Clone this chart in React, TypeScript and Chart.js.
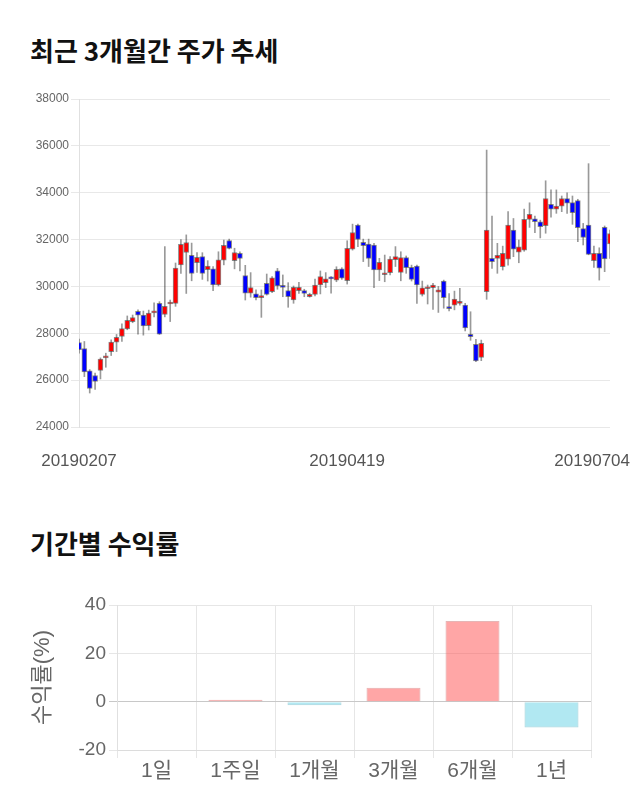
import React, { useEffect, useRef } from 'react';
import { Chart, registerables } from 'chart.js';

Chart.register(...registerables);

const FONT = "'Liberation Sans', Arial, 'Noto Sans CJK KR', sans-serif";

// ---- Price chart data (100 trading days) ----
const dates = [
  '20190207', '20190208', '20190211', '20190212', '20190213', '20190214', '20190215',
  '20190218', '20190219', '20190220', '20190221', '20190222', '20190225', '20190226',
  '20190227', '20190228', '20190304', '20190305', '20190306', '20190307', '20190308',
  '20190311', '20190312', '20190313', '20190314', '20190315', '20190318', '20190319',
  '20190320', '20190321', '20190322', '20190325', '20190326', '20190327', '20190328',
  '20190329', '20190401', '20190402', '20190403', '20190404', '20190405', '20190408',
  '20190409', '20190410', '20190411', '20190412', '20190415', '20190416', '20190417',
  '20190418', '20190419', '20190422', '20190423', '20190424', '20190425', '20190426',
  '20190429', '20190430', '20190507', '20190508', '20190509', '20190510', '20190513',
  '20190514', '20190515', '20190516', '20190517', '20190520', '20190521', '20190522',
  '20190523', '20190524', '20190527', '20190528', '20190529', '20190530', '20190531',
  '20190603', '20190604', '20190605', '20190607', '20190610', '20190611', '20190612',
  '20190613', '20190614', '20190617', '20190618', '20190619', '20190620', '20190621',
  '20190624', '20190625', '20190626', '20190627', '20190628', '20190701', '20190702',
  '20190703', '20190704',
];
const shownDateIdx = [0, 50, 99];

const opens = [
  27600, 27350, 26400, 26200, 26420, 26950, 27220, 27620, 27870, 28190,
  28500, 28940, 28780, 28320, 28870, 29280, 28800, 29250, 29280, 30920,
  31450, 31330, 31010, 31270, 30710, 30750, 30060, 31120, 31960, 31100,
  31410, 30460, 29710, 29680, 29520, 30130, 29780, 30670, 30020, 29820,
  29420, 29820, 29820, 29560, 29660, 30060, 30160, 30370, 30270, 30750,
  30250, 31590, 32620, 31880, 31810, 31770, 30700, 30500, 30590, 31140,
  30600, 31230, 30820, 30870, 29660, 29900, 29945, 29760, 30230, 29120,
  29200, 29280, 29200, 27960, 27530, 26970, 29780, 31200, 31200, 30840,
  31160, 32410, 31460, 31550, 32860, 32890, 32760, 32590, 33500, 33300,
  33430, 33750, 33580, 33660, 32470, 32620, 31100, 31410, 32520, 31810,
];
const highs = [
  27750, 27650, 26450, 26300, 26950, 27150, 27720, 27950, 28400, 28740,
  28780, 29000, 28950, 28990, 29300, 29350, 31700, 29420, 31000, 32000,
  32200, 31850, 31450, 31440, 31100, 30850, 31480, 31980, 32020, 31630,
  31480, 30900, 30590, 29850, 29850, 30530, 30420, 30770, 30490, 30160,
  30020, 30180, 29880, 29710, 30310, 30660, 30590, 30420, 30840, 30800,
  31950, 32660, 32660, 32020, 32020, 31840, 31200, 31340, 31270, 31700,
  31480, 31300, 30910, 30910, 30230, 30060, 30130, 30000, 30270, 29700,
  29800, 29920, 29280, 28920, 27740, 27710, 35820, 33000, 31840, 31720,
  33190, 32900, 31980, 33300, 33570, 33000, 32830, 34510, 34120, 34120,
  33860, 34000, 33860, 33720, 32690, 35240, 31720, 31650, 32580, 32400,
];
const lows = [
  27150, 26150, 25450, 25600, 26050, 26550, 27050, 27220, 27650, 28150,
  28450, 27960, 27920, 28140, 28700, 27950, 28700, 28500, 29150, 30560,
  29700, 30240, 30600, 30300, 30230, 29820, 30020, 30920, 31600, 30750,
  30660, 29420, 29540, 29420, 28680, 29630, 29730, 29880, 29560, 29110,
  29280, 29700, 29560, 29540, 29590, 29680, 29950, 29710, 30200, 30300,
  30100, 31550, 31700, 31060, 30850, 29950, 30250, 30200, 30490, 30850,
  30240, 30560, 30230, 29280, 29590, 29250, 29020, 28890, 29070, 28950,
  29000, 29200, 28100, 27700, 26790, 26830, 29450, 30770, 30560, 30700,
  30910, 31270, 31010, 31500, 32520, 32290, 32070, 32270, 32960, 33120,
  33190, 33120, 32650, 31910, 31770, 31350, 30810, 30270, 30630, 31200,
];
const closes = [
  27300, 26350, 25650, 25950, 26900, 27000, 27620, 27830, 28200, 28550,
  28670, 28770, 28310, 28860, 28900, 27960, 29150, 29300, 30780, 31800,
  31870, 30560, 31240, 30560, 30870, 30060, 31130, 31750, 31620, 31450,
  31200, 29710, 29950, 29520, 29580, 29660, 30370, 30020, 29960, 29560,
  29960, 29960, 29700, 29660, 30060, 30420, 30320, 30320, 30730, 30350,
  31630, 32300, 32010, 31740, 31200, 30700, 31030, 30570, 31170, 31270,
  31230, 30800, 30300, 30060, 29945, 29960, 30060, 29850, 29520, 29050,
  29460, 29340, 28230, 27860, 26820, 27570, 32410, 31060, 31330, 31410,
  32620, 31590, 31690, 32860, 33080, 32760, 32550, 33750, 33300, 33430,
  33750, 33550, 33150, 32510, 32090, 31370, 31410, 30780, 31170, 32260,
];
const priceMin = 24000;
const priceMax = 38000;
const priceStep = 2000;

// ---- Period return data ----
const periods = ['1일', '1주일', '1개월', '3개월', '6개월', '1년'];
const returns = [0, 0.8, -1.5, 5.8, 33.4, -10.7];
const returnMin = -20;
const returnMax = 40;
const returnStep = 20;

const dateLabelPlugin = {
  id: 'dateLabels',
  afterDraw(chart: any) {
    const { ctx, chartArea } = chart;
    const x = chart.scales.x;
    ctx.save();
    ctx.font = `17px ${FONT}`;
    ctx.fillStyle = '#555';
    ctx.textBaseline = 'middle';
    ctx.textAlign = 'left';
    shownDateIdx.forEach((i) => {
      const t = dates[i];
      const w = ctx.measureText(t).width;
      const cx = x.getPixelForValue(i);
      let left = cx - w / 2;
      if (left + w > chart.width - 2) left = chart.width - 2 - w;
      if (left < 2) left = 2;
      ctx.fillText(t, left, chartArea.bottom + 34);
    });
    ctx.restore();
  },
};

function PriceChart() {
  const ref = useRef<HTMLCanvasElement>(null);
  useEffect(() => {
    if (!ref.current) return;
    const bodyData = opens.map((o, i) => [o, closes[i]]);
    const wickData = lows.map((l, i) => [l, highs[i]]);
    const colors = opens.map((o, i) => (closes[i] >= o ? '#ff0000' : '#0000ff'));
    const chart = new Chart(ref.current, {
      type: 'bar',
      data: {
        labels: dates,
        datasets: [
          {
            data: bodyData as any,
            backgroundColor: colors,
            borderColor: 'rgba(60,60,60,0.6)',
            borderWidth: 1,
            borderSkipped: false,
            barThickness: 5,
            grouped: false,
            minBarLength: 2,
          } as any,
          {
            data: wickData as any,
            backgroundColor: 'rgba(0,0,0,0.4)',
            borderWidth: 0,
            barThickness: 1,
            grouped: false,
          } as any,
        ],
      },
      options: {
        responsive: false,
        animation: false,
        layout: { padding: { left: 0, right: 22, top: 11, bottom: 53 } },
        plugins: { legend: { display: false }, tooltip: { enabled: false } },
        scales: {
          x: {
            offset: false,
            grid: { display: false },
            ticks: { display: false },
            border: { display: false },
            afterFit: (s: any) => {
              s.height = 0;
            },
          },
          y: {
            min: priceMin,
            max: priceMax,
            ticks: {
              stepSize: priceStep,
              font: { size: 12, family: FONT },
              color: '#666',
              padding: 2,
              callback: (v: any) => String(v),
            },
            grid: { color: '#e8e8e8' },
            border: { color: '#e0e0e0' },
            afterFit: (s: any) => {
              s.width = 71;
            },
          },
        },
      } as any,
      plugins: [dateLabelPlugin],
    });
    return () => chart.destroy();
  }, []);
  return <canvas ref={ref} width={624} height={392} style={{ position: 'absolute', left: 0, top: 80 }} />;
}

function ReturnChart() {
  const ref = useRef<HTMLCanvasElement>(null);
  useEffect(() => {
    if (!ref.current) return;
    const fills = returns.map((v) => (v >= 0 ? 'rgba(255,77,77,0.5)' : 'rgba(99,210,230,0.5)'));
    const borders = returns.map((v) => (v >= 0 ? 'rgba(220,150,150,0.7)' : 'rgba(140,200,210,0.7)'));
    const chart = new Chart(ref.current, {
      type: 'bar',
      data: {
        labels: periods,
        datasets: [
          {
            data: returns,
            backgroundColor: fills,
            borderColor: borders,
            borderWidth: 1,
            categoryPercentage: 0.76,
            barPercentage: 0.9,
          },
        ],
      },
      options: {
        responsive: false,
        animation: false,
        layout: { padding: { left: 0, right: 41, top: 17, bottom: 0 } },
        plugins: { legend: { display: false }, tooltip: { enabled: false } },
        scales: {
          x: {
            grid: { color: '#e6e6e6' },
            border: { color: '#dcdcdc' },
            ticks: { font: { size: 21, family: FONT }, color: '#666', padding: 1 },
            afterFit: (s: any) => {
              s.height = 38;
            },
          },
          y: {
            min: returnMin,
            max: returnMax,
            ticks: { stepSize: returnStep, font: { size: 19, family: FONT }, color: '#666' },
            grid: {
              color: (c: any) => (c.tick && c.tick.value === 0 ? '#c8c8c8' : '#e6e6e6'),
            },
            border: { color: '#e0e0e0' },
            title: {
              display: true,
              text: '수익률(%)',
              font: { size: 22, family: FONT },
              color: '#666',
              padding: { top: 22, bottom: 0 },
            },
            afterFit: (s: any) => {
              s.width = 109;
            },
          },
        },
      } as any,
    });
    return () => chart.destroy();
  }, []);
  return <canvas ref={ref} width={624} height={200} style={{ position: 'absolute', left: 0, top: 580 }} />;
}

const titleStyle: React.CSSProperties = {
  position: 'absolute',
  left: 22,
  margin: 0,
  fontFamily: "'Noto Sans CJK KR', sans-serif",
  fontWeight: 700,
  fontSize: 26,
  lineHeight: '30px',
  color: '#111',
  whiteSpace: 'nowrap',
};

export default function App() {
  return (
    <div style={{ position: 'relative', width: 624, height: 794 }}>
      <div style={{ ...titleStyle, top: 27 }}>최근 3개월간 주가 추세</div>
      <PriceChart />
      <div style={{ ...titleStyle, top: 520 }}>기간별 수익률</div>
      <ReturnChart />
    </div>
  );
}
